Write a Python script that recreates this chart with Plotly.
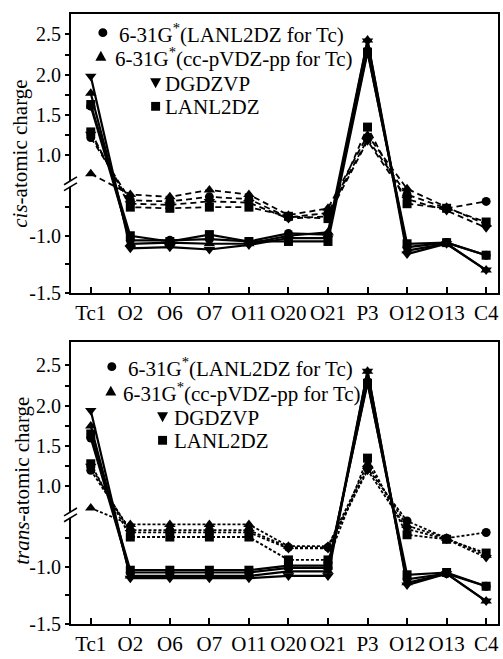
import plotly.graph_objects as go

# ---------------- data ----------------
categories = ["Tc1", "O2", "O6", "O7", "O11", "O20", "O21", "P3", "O12", "O13", "C4"]
method_names = ["6-31G*(LANL2DZ for Tc)", "6-31G*(cc-pVDZ-pp for Tc)", "DGDZVP", "LANL2DZ"]

# cis panel, solid lines
cis_solid_631_lanl = [1.61, -1.04, -1.04, -1.03, -1.05, -0.98, -0.99, 2.30, -1.10, -1.06, -1.17]
cis_solid_631_ccp = [1.77, -1.07, -1.06, -1.07, -1.07, -1.00, -0.97, 2.43, -1.13, -1.07, -1.30]
cis_solid_dgdzvp = [1.98, -1.11, -1.10, -1.12, -1.08, -1.02, -1.02, 2.42, -1.16, -1.07, -1.30]
cis_solid_lanl2dz = [1.63, -1.00, -1.05, -0.99, -1.05, -1.05, -1.05, 2.28, -1.07, -1.06, -1.17]
# cis panel, dashed lines
cis_dash_631_lanl = [1.22, -0.69, -0.70, -0.66, -0.68, -0.84, -0.80, 1.20, -0.64, -0.76, -0.70]
cis_dash_631_ccp = [0.77, -0.64, -0.66, -0.60, -0.64, -0.82, -0.76, 1.25, -0.59, -0.75, -0.90]
cis_dash_dgdzvp = [1.26, -0.72, -0.73, -0.70, -0.71, -0.85, -0.83, 1.18, -0.68, -0.78, -0.93]
cis_dash_lanl2dz = [1.29, -0.75, -0.76, -0.75, -0.75, -0.83, -0.85, 1.35, -0.72, -0.76, -0.88]

# trans panel, solid lines
trans_solid_631_lanl = [1.60, -1.05, -1.05, -1.05, -1.05, -1.01, -1.01, 2.30, -1.11, -1.06, -1.17]
trans_solid_631_ccp = [1.75, -1.08, -1.08, -1.08, -1.08, -1.04, -1.04, 2.43, -1.14, -1.06, -1.30]
trans_solid_dgdzvp = [1.94, -1.10, -1.10, -1.10, -1.10, -1.08, -1.08, 2.43, -1.16, -1.06, -1.30]
trans_solid_lanl2dz = [1.65, -1.03, -1.03, -1.03, -1.03, -0.99, -0.99, 2.28, -1.07, -1.05, -1.17]
# trans panel, dashed lines
trans_dash_631_lanl = [1.20, -0.68, -0.68, -0.68, -0.68, -0.83, -0.83, 1.22, -0.60, -0.75, -0.70]
trans_dash_631_ccp = [0.73, -0.63, -0.63, -0.63, -0.63, -0.82, -0.82, 1.27, -0.64, -0.75, -0.90]
trans_dash_dgdzvp = [1.25, -0.70, -0.70, -0.70, -0.70, -0.84, -0.84, 1.20, -0.67, -0.76, -0.92]
trans_dash_lanl2dz = [1.28, -0.74, -0.74, -0.74, -0.74, -0.94, -0.94, 1.35, -0.72, -0.76, -0.88]

major_ticks = [2.5, 2.0, 1.5, 1.0, -1.0, -1.5]
minor_ticks = [2.25, 1.75, 1.25, -0.75, -1.25]

# ---------------- broken-axis scale ----------------
LOW_SCALE = 116.5     # px per unit below the break
HIGH_SCALE = 82.0     # px per unit above the break
LOW_TOP = -0.546      # value at top of lower segment
HIGH_BOTTOM = 0.646   # value at bottom of upper segment
T_BREAK = (LOW_TOP + 1.5) * LOW_SCALE


def t(v):
    if v < 0:
        return (v + 1.5) * LOW_SCALE
    return T_BREAK + (v - HIGH_BOTTOM) * HIGH_SCALE


def tl(vals):
    return [t(v) for v in vals]


FONT = "Liberation Serif"
W, H = 503, 659
ML, MR, MT, MB = 71, 3, 14, 24
PW = W - ML - MR
PH = H - MT - MB


def PX(px):
    return (px - ML) / PW


def PY(py):
    return (H - MB - py) / PH


symbols = ["circle", "triangle-up", "triangle-down", "square"]
sizes = [9, 10, 10, 9]

fig = go.Figure()

panels = [
    dict(xa="x", ya="y",
         solid=[cis_solid_631_lanl, cis_solid_631_ccp, cis_solid_dgdzvp, cis_solid_lanl2dz],
         dash=[cis_dash_631_lanl, cis_dash_631_ccp, cis_dash_dgdzvp, cis_dash_lanl2dz],
         dashstyle="6px,4px"),
    dict(xa="x2", ya="y2",
         solid=[trans_solid_631_lanl, trans_solid_631_ccp, trans_solid_dgdzvp, trans_solid_lanl2dz],
         dash=[trans_dash_631_lanl, trans_dash_631_ccp, trans_dash_dgdzvp, trans_dash_lanl2dz],
         dashstyle="3px,2px"),
]

for p in panels:
    for i in range(4):
        fig.add_trace(go.Scatter(
            x=categories, y=tl(p["dash"][i]), xaxis=p["xa"], yaxis=p["ya"],
            mode="lines+markers", name=method_names[i], showlegend=False,
            line=dict(color="black", width=1.8, dash=p["dashstyle"]),
            marker=dict(symbol=symbols[i], size=sizes[i], color="black")))
    for i in range(4):
        fig.add_trace(go.Scatter(
            x=categories, y=tl(p["solid"][i]), xaxis=p["xa"], yaxis=p["ya"],
            mode="lines+markers", name=method_names[i], showlegend=False,
            line=dict(color="black", width=2.2),
            marker=dict(symbol=symbols[i], size=sizes[i], color="black")))

tickvals = [t(v) for v in major_ticks]
ticktext = [f"{v:.1f}" for v in major_ticks]

yax_common = dict(tickmode="array", tickvals=tickvals, ticktext=ticktext, ticks="outside",
                  ticklen=4, tickwidth=1.5, tickcolor="black", showline=True, linewidth=2,
                  linecolor="black", mirror=True, showgrid=False, zeroline=False,
                  tickfont=dict(family=FONT, size=20, color="black"),
                  minor=dict(tickmode="array", tickvals=[t(v) for v in minor_ticks],
                             ticks="outside", ticklen=4, tickwidth=1.5, tickcolor="black",
                             showgrid=False))
xax_common = dict(type="category", range=[-0.5, 10.3], ticks="inside", ticklen=6,
                  tickwidth=1.5, tickcolor="black", showline=True, linewidth=2,
                  linecolor="black", mirror=True, showgrid=False, zeroline=False,
                  tickfont=dict(family=FONT, size=21, color="black"))

top_dom = [PY(298), 1.0]
bot_dom = [0.0, PY(348)]

fig.update_layout(
    width=W, height=H,
    margin=dict(l=ML, r=MR, t=MT, b=MB, pad=0),
    paper_bgcolor="white", plot_bgcolor="white",
    font=dict(family=FONT, size=21, color="black"),
    xaxis=dict(domain=[0, 1], anchor="y", **xax_common),
    yaxis=dict(domain=top_dom, anchor="x", range=[0, 284], **yax_common),
    xaxis2=dict(domain=[0, 1], anchor="y2", **xax_common),
    yaxis2=dict(domain=bot_dom, anchor="x2", range=[0, 287], **yax_common),
)

shapes = []
annotations = []

# break marks on the left axis
for bottom_px in (298, 635):
    b = bottom_px - T_BREAK
    shapes.append(dict(type="rect", xref="paper", yref="paper",
                       x0=PX(68), x1=PX(74), y0=PY(b + 3), y1=PY(b - 3),
                       fillcolor="white", line=dict(width=0)))
    for off in (-3, 3):
        shapes.append(dict(type="line", xref="paper", yref="paper",
                           x0=PX(64), y0=PY(b + off + 4), x1=PX(77), y1=PY(b + off - 4),
                           line=dict(color="black", width=1.6)))

# y-axis titles
annotations.append(dict(text="<i>cis</i>-atomic charge", xref="paper", yref="paper",
                        x=PX(20), y=PY(156), textangle=-90, showarrow=False,
                        xanchor="center", yanchor="middle",
                        font=dict(family=FONT, size=21, color="black")))
annotations.append(dict(text="<i>trans</i>-atomic charge", xref="paper", yref="paper",
                        x=PX(21), y=PY(489), textangle=-90, showarrow=False,
                        xanchor="center", yanchor="middle",
                        font=dict(family=FONT, size=21, color="black")))

legend_labels = ["6-31G<sup>*</sup>(LANL2DZ for Tc)", "6-31G<sup>*</sup>(cc-pVDZ-pp for Tc)",
                 "DGDZVP", "LANL2DZ"]


def marker_shape(kind, cx, cy):
    r = 4.5
    if kind == "circle":
        return dict(type="circle", xref="paper", yref="paper",
                    x0=PX(cx - r), x1=PX(cx + r), y0=PY(cy + r), y1=PY(cy - r),
                    fillcolor="black", line=dict(width=0))
    if kind == "square":
        return dict(type="rect", xref="paper", yref="paper",
                    x0=PX(cx - r), x1=PX(cx + r), y0=PY(cy + r), y1=PY(cy - r),
                    fillcolor="black", line=dict(width=0))
    if kind == "triangle-up":
        pts = [(cx - 5.5, cy + 4.5), (cx + 5.5, cy + 4.5), (cx, cy - 5.5)]
    else:
        pts = [(cx - 5.5, cy - 4.5), (cx + 5.5, cy - 4.5), (cx, cy + 5.5)]
    path = "M " + " L ".join(f"{PX(a)},{PY(b)}" for a, b in pts) + " Z"
    return dict(type="path", xref="paper", yref="paper", path=path,
                fillcolor="black", line=dict(width=0))


legend_layouts = [
    [(103, 33, 117), (101, 57, 113), (156, 84, 163), (156, 108, 163)],
    [(112, 373, 126), (111, 398, 121), (163, 424, 172), (163, 448, 172)],
]
for lay in legend_layouts:
    for i, (mx, my, tx) in enumerate(lay):
        shapes.append(marker_shape(symbols[i], mx, my))
        annotations.append(dict(text=legend_labels[i], xref="paper", yref="paper",
                                x=PX(tx), y=PY(my + 1), showarrow=False,
                                xanchor="left", yanchor="middle",
                                font=dict(family=FONT, size=21, color="black")))

fig.update_layout(shapes=shapes, annotations=annotations)

post = ("document.documentElement.style.margin='0';document.body.style.margin='0';"
        "document.body.style.padding='0';document.body.style.overflow='hidden';")
fig.write_html("out.html", post_script=post, config={"displayModeBar": False})
